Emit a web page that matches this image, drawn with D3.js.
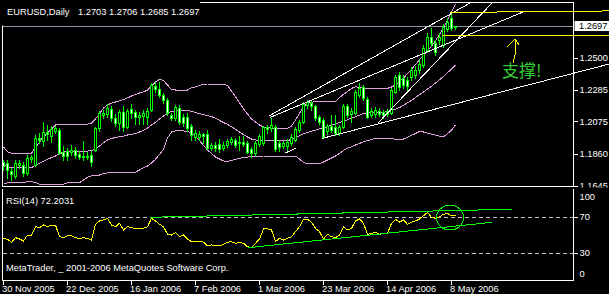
<!DOCTYPE html>
<html>
<head>
<meta charset="utf-8">
<script src="https://cdn.jsdelivr.net/npm/d3@7"></script>
<style>
    body { margin: 0; background: #000; overflow: hidden; }
    svg { display: block; }
    text { font-family: "Liberation Sans", Arial, sans-serif; font-size: 9.3px; fill: #fff; }
</style>
</head>
<body>
<svg id="chart" width="609" height="294"></svg>
<script>
// EURUSD daily candles, 30 Nov 2005 .. 9 May 2006 (one entry per bar)
const opens = [
    1.1797, 1.1790, 1.1737, 1.1704, 1.1777, 1.1777, 1.1724, 1.1817, 1.1777, 1.1957,
    1.1937, 1.1997, 1.1970, 1.2004, 1.2010, 1.1864, 1.1870, 1.1864, 1.1877, 1.1850,
    1.1830, 1.1837, 1.1844, 1.1877, 1.2024, 1.2110, 1.2117, 1.2150, 1.2090, 1.2057,
    1.2130, 1.2030, 1.2150, 1.2130, 1.2097, 1.2104, 1.2097, 1.2144, 1.2304, 1.2284,
    1.2244, 1.2210, 1.2110, 1.2090, 1.2157, 1.2097, 1.2097, 1.2037, 1.1964, 1.1964,
    1.1984, 1.1984, 1.1890, 1.1910, 1.1917, 1.1890, 1.1910, 1.1930, 1.1944, 1.1924,
    1.1930, 1.1924, 1.1884, 1.1857, 1.1917, 1.1924, 1.2030, 1.2024, 1.2030, 1.1924,
    1.1904, 1.1904, 1.1924, 1.1944, 1.2010, 1.2064, 1.2177, 1.2190, 1.2170, 1.2097,
    1.2077, 1.2004, 1.2037, 1.2030, 1.1990, 1.2030, 1.2170, 1.2117, 1.2124, 1.2244,
    1.2297, 1.2217, 1.2110, 1.2117, 1.2137, 1.2130, 1.2117, 1.2124, 1.2264, 1.2377,
    1.2357, 1.2344, 1.2364, 1.2377, 1.2410, 1.2444, 1.2544, 1.2630, 1.2590, 1.2610,
    1.2577, 1.2684, 1.2757, 1.2703
];
const highs = [
    1.1810, 1.1810, 1.1757, 1.1810, 1.1810, 1.1797, 1.1844, 1.1844, 1.1977, 1.1990,
    1.2064, 1.2044, 1.2037, 1.2037, 1.2024, 1.1904, 1.1890, 1.1910, 1.1897, 1.1870,
    1.1937, 1.1864, 1.1870, 1.2030, 1.2137, 1.2144, 1.2184, 1.2170, 1.2117, 1.2144,
    1.2170, 1.2150, 1.2184, 1.2144, 1.2130, 1.2144, 1.2157, 1.2324, 1.2330, 1.2330,
    1.2257, 1.2224, 1.2124, 1.2177, 1.2177, 1.2117, 1.2124, 1.2050, 1.2010, 1.2004,
    1.1990, 1.2010, 1.1924, 1.1930, 1.1950, 1.1930, 1.1950, 1.1964, 1.1957, 1.1970,
    1.1970, 1.1937, 1.1897, 1.1937, 1.1984, 1.2037, 1.2044, 1.2090, 1.2044, 1.1944,
    1.1937, 1.1950, 1.1984, 1.2030, 1.2077, 1.2197, 1.2210, 1.2204, 1.2177, 1.2110,
    1.2090, 1.2050, 1.2110, 1.2110, 1.2044, 1.2184, 1.2184, 1.2157, 1.2277, 1.2324,
    1.2310, 1.2230, 1.2157, 1.2164, 1.2157, 1.2144, 1.2150, 1.2290, 1.2377, 1.2397,
    1.2377, 1.2364, 1.2430, 1.2437, 1.2477, 1.2577, 1.2657, 1.2690, 1.2610, 1.2657,
    1.2717, 1.2757, 1.2797, 1.2706
];
const lows = [
    1.1744, 1.1690, 1.1677, 1.1690, 1.1757, 1.1704, 1.1710, 1.1797, 1.1770, 1.1924,
    1.1904, 1.1944, 1.1930, 1.1990, 1.1850, 1.1810, 1.1810, 1.1844, 1.1824, 1.1817,
    1.1810, 1.1817, 1.1770, 1.1870, 1.2004, 1.2090, 1.2097, 1.2070, 1.2037, 1.2010,
    1.2004, 1.2024, 1.2090, 1.2050, 1.2050, 1.2050, 1.2050, 1.2137, 1.2264, 1.2230,
    1.2190, 1.2110, 1.2077, 1.2077, 1.2050, 1.2037, 1.2004, 1.1944, 1.1944, 1.1944,
    1.1924, 1.1884, 1.1877, 1.1870, 1.1864, 1.1877, 1.1897, 1.1917, 1.1897, 1.1877,
    1.1904, 1.1857, 1.1830, 1.1844, 1.1904, 1.1910, 1.1990, 1.2004, 1.1870, 1.1870,
    1.1890, 1.1877, 1.1910, 1.1937, 1.1997, 1.2057, 1.2157, 1.2144, 1.2077, 1.2050,
    1.1957, 1.1984, 1.1997, 1.1977, 1.1977, 1.2024, 1.2097, 1.2064, 1.2117, 1.2230,
    1.2210, 1.2090, 1.2097, 1.2097, 1.2104, 1.2090, 1.2104, 1.2117, 1.2257, 1.2277,
    1.2290, 1.2277, 1.2344, 1.2357, 1.2390, 1.2430, 1.2530, 1.2570, 1.2510, 1.2584,
    1.2564, 1.2670, 1.2677, 1.2685
];
const closes = [
    1.1770, 1.1744, 1.1717, 1.1790, 1.1790, 1.1724, 1.1824, 1.1830, 1.1957, 1.1944,
    1.1997, 1.1984, 1.2017, 1.2024, 1.1857, 1.1837, 1.1837, 1.1877, 1.1844, 1.1830,
    1.1837, 1.1830, 1.1797, 1.2024, 1.2124, 1.2124, 1.2157, 1.2090, 1.2057, 1.2130,
    1.2030, 1.2137, 1.2124, 1.2097, 1.2110, 1.2124, 1.2137, 1.2310, 1.2284, 1.2244,
    1.2210, 1.2124, 1.2090, 1.2164, 1.2064, 1.2057, 1.2024, 1.1977, 1.1990, 1.1984,
    1.1970, 1.1890, 1.1910, 1.1890, 1.1884, 1.1910, 1.1937, 1.1950, 1.1910, 1.1930,
    1.1917, 1.1864, 1.1857, 1.1924, 1.1970, 1.2030, 1.2017, 1.2044, 1.1884, 1.1897,
    1.1924, 1.1930, 1.1964, 1.2017, 1.2064, 1.2184, 1.2197, 1.2170, 1.2090, 1.2064,
    1.1964, 1.2037, 1.2010, 1.1990, 1.2030, 1.2170, 1.2110, 1.2137, 1.2264, 1.2290,
    1.2224, 1.2097, 1.2137, 1.2144, 1.2117, 1.2110, 1.2137, 1.2277, 1.2364, 1.2297,
    1.2310, 1.2304, 1.2410, 1.2410, 1.2450, 1.2557, 1.2630, 1.2590, 1.2530, 1.2630,
    1.2697, 1.2730, 1.2690, 1.2697
];

// Bollinger bands as drawn on the chart
const bandUpper = [
    1.1897, 1.1866, 1.1855, 1.1855, 1.1855, 1.1855, 1.1855, 1.1855, 1.1894, 1.1930,
    1.1966, 1.1990, 1.2017, 1.2044, 1.2044, 1.2044, 1.2050, 1.2050, 1.2050, 1.2050,
    1.2050, 1.2050, 1.2057, 1.2084, 1.2118, 1.2157, 1.2177, 1.2190, 1.2197, 1.2204,
    1.2214, 1.2224, 1.2237, 1.2247, 1.2257, 1.2264, 1.2277, 1.2304, 1.2332, 1.2348,
    1.2340, 1.2310, 1.2280, 1.2277, 1.2277, 1.2277, 1.2277, 1.2292, 1.2297, 1.2307,
    1.2315, 1.2317, 1.2317, 1.2317, 1.2317, 1.2317, 1.2307, 1.2270, 1.2232, 1.2192,
    1.2152, 1.2117, 1.2084, 1.2064, 1.2044, 1.2030, 1.2027, 1.2022, 1.2022, 1.2022,
    1.2022, 1.2022, 1.2037, 1.2077, 1.2122, 1.2166, 1.2190, 1.2195, 1.2199, 1.2199,
    1.2199, 1.2199, 1.2199, 1.2199, 1.2227, 1.2248, 1.2267, 1.2287, 1.2299, 1.2294,
    1.2288, 1.2288, 1.2288, 1.2288, 1.2288, 1.2288, 1.2288, 1.2297, 1.2310, 1.2334,
    1.2357, 1.2386, 1.2416, 1.2446, 1.2478, 1.2510, 1.2540, 1.2569, 1.2605, 1.2648,
    1.2690, 1.2744, 1.2797, 1.2850
];
const bandMiddle = [
    1.1782, 1.1766, 1.1759, 1.1759, 1.1759, 1.1759, 1.1759, 1.1759, 1.1776, 1.1789,
    1.1802, 1.1816, 1.1826, 1.1837, 1.1852, 1.1862, 1.1870, 1.1870, 1.1870, 1.1870,
    1.1870, 1.1870, 1.1873, 1.1882, 1.1904, 1.1925, 1.1944, 1.1954, 1.1960, 1.1965,
    1.1970, 1.1977, 1.1982, 1.1987, 1.1997, 1.2008, 1.2023, 1.2044, 1.2062, 1.2084,
    1.2104, 1.2122, 1.2134, 1.2139, 1.2139, 1.2139, 1.2139, 1.2135, 1.2127, 1.2120,
    1.2113, 1.2106, 1.2100, 1.2088, 1.2074, 1.2060, 1.2048, 1.2032, 1.2014, 1.1997,
    1.1979, 1.1964, 1.1950, 1.1944, 1.1940, 1.1939, 1.1939, 1.1939, 1.1939, 1.1939,
    1.1939, 1.1939, 1.1948, 1.1962, 1.1972, 1.1984, 1.1993, 1.2002, 1.2010, 1.2018,
    1.2026, 1.2034, 1.2042, 1.2051, 1.2060, 1.2069, 1.2079, 1.2089, 1.2099, 1.2110,
    1.2120, 1.2126, 1.2126, 1.2126, 1.2126, 1.2128, 1.2135, 1.2142, 1.2150, 1.2160,
    1.2176, 1.2192, 1.2208, 1.2227, 1.2246, 1.2264, 1.2283, 1.2302, 1.2324, 1.2345,
    1.2368, 1.2392, 1.2416, 1.2444
];
const bandLower = [
    1.1655, 1.1657, 1.1659, 1.1659, 1.1659, 1.1659, 1.1666, 1.1666, 1.1660, 1.1650,
    1.1648, 1.1648, 1.1648, 1.1648, 1.1648, 1.1648, 1.1659, 1.1659, 1.1659, 1.1659,
    1.1677, 1.1695, 1.1704, 1.1708, 1.1710, 1.1722, 1.1724, 1.1726, 1.1726, 1.1726,
    1.1726, 1.1726, 1.1726, 1.1729, 1.1744, 1.1758, 1.1770, 1.1790, 1.1815, 1.1847,
    1.1882, 1.1957, 1.1997, 1.2004, 1.2004, 1.2004, 1.2000, 1.1990, 1.1970, 1.1940,
    1.1908, 1.1877, 1.1854, 1.1830, 1.1817, 1.1804, 1.1800, 1.1808, 1.1815, 1.1822,
    1.1827, 1.1830, 1.1833, 1.1834, 1.1836, 1.1837, 1.1837, 1.1837, 1.1837, 1.1837,
    1.1837, 1.1837, 1.1837, 1.1837, 1.1817, 1.1794, 1.1784, 1.1784, 1.1784, 1.1786,
    1.1797, 1.1810, 1.1824, 1.1837, 1.1854, 1.1874, 1.1890, 1.1898, 1.1910, 1.1921,
    1.1932, 1.1940, 1.1947, 1.1954, 1.1954, 1.1954, 1.1954, 1.1954, 1.1947, 1.1944,
    1.1950, 1.1962, 1.1974, 1.1987, 1.2000, 1.1997, 1.1990, 1.1982, 1.1976, 1.1970,
    1.1964, 1.1986, 1.2010, 1.2044
];

// RSI(14)
const rsiValues = [
    46.3, 45.2, 41.9, 47.0, 45.6, 43.3, 50.0, 50.0, 59.2, 58.1,
    61.1, 59.2, 61.1, 61.1, 48.1, 47.0, 49.2, 49.2, 47.0, 46.3,
    47.0, 46.3, 44.4, 61.9, 65.6, 66.7, 68.6, 61.1, 59.2, 63.0,
    55.6, 59.2, 58.1, 57.4, 57.4, 57.4, 59.2, 68.6, 65.6, 61.9,
    59.2, 50.8, 50.0, 52.6, 48.1, 50.0, 45.6, 42.6, 42.6, 43.3,
    41.9, 38.1, 38.9, 38.1, 37.8, 39.7, 41.9, 42.6, 40.8, 41.9,
    40.8, 37.0, 35.9, 40.8, 45.6, 56.7, 56.7, 55.6, 42.6, 46.3,
    44.4, 46.3, 48.1, 53.7, 59.2, 67.4, 67.4, 64.1, 57.4, 53.7,
    45.6, 50.8, 48.1, 47.0, 50.0, 59.2, 55.6, 57.4, 65.6, 67.8,
    63.0, 50.8, 51.9, 53.0, 50.8, 51.9, 51.9, 63.0, 67.4, 64.4,
    66.7, 61.9, 64.1, 65.6, 67.8, 71.4, 75.2, 69.7, 68.6, 70.3,
    73.0, 74.1, 71.4, 72.2031
];

// axis labels
const dateTickBars = [0, 16, 32, 48, 64, 80, 96, 112];
const dateLabels = ["30 Nov 2005", "22 Dec 2005", "16 Jan 2006", "7 Feb 2006",
    "1 Mar 2006", "23 Mar 2006", "14 Apr 2006", "8 May 2006"];
const priceTicks = [1.2500, 1.2285, 1.2075, 1.1860, 1.1645];
const rsiTicks = [100, 70, 30, 0];
const rsiLevels = [70, 30];
const lastPrice = 1.2697;

// hand drawn objects, [bar, price] pairs
const whiteTrendLines = [
    [[66.5, 1.2104], [116.75, 1.2857]],
    [[66.75, 1.2094], [130, 1.2797]],
    [[93.75, 1.2057], [122.25, 1.2857]],
    [[79.75, 1.1954], [151.5, 1.2450]],
    [[70.6, 1.1857], [73.25, 1.1890]]
];
const yellowLines = [
    [[111.75, 1.2794], [151.5, 1.2804]],
    [[109.75, 1.2640], [151.5, 1.2640]]
];
const arrowPoints = [[127.5, 1.2457], [128, 1.2510], [128, 1.2604]];
const arrowHead = [[126, 1.2564], [128, 1.2617], [129, 1.2577]];
const noteText = "支撑!";
const notePos = [124.75, 1.2404];
// RSI objects, [bar, rsi]
const rsiTrendLines = [
    [[36.75, 69.7], [127.25, 78.6]],
    [[61.25, 35.9], [122.25, 64.1]]
];
const rsiCircle = [111.75, 69.4];

const W = 609, H = 294;
const plotLeft = 3, plotRight = 573;
const mainTop = 3, mainBottom = 186;
const rsiTop = 189, rsiBottom = 281;

const x = d3.scaleLinear().domain([0, 113]).range([3, 455]);
const y = d3.scaleLinear().domain([1.1645, 1.2697]).range([184.8, 27]);
const yR = d3.scaleLinear().domain([0, 100]).range([280, 190]);

const svg = d3.select("#chart");
svg.append("rect").attr("width", W).attr("height", H).attr("fill", "#000");

const defs = svg.append("defs");
defs.append("clipPath").attr("id", "clip-main").append("rect")
    .attr("x", plotLeft).attr("y", mainTop).attr("width", W - plotLeft).attr("height", mainBottom - mainTop);
defs.append("clipPath").attr("id", "clip-rsi").append("rect")
    .attr("x", plotLeft).attr("y", rsiTop).attr("width", plotRight - plotLeft).attr("height", rsiBottom - rsiTop);

// ---- main window ----
const main = svg.append("g").attr("clip-path", "url(#clip-main)").attr("shape-rendering", "crispEdges");

// current price line
main.append("line")
    .attr("x1", plotLeft).attr("x2", plotRight)
    .attr("y1", Math.round(y(lastPrice)) - 0.5).attr("y2", Math.round(y(lastPrice)) - 0.5)
    .attr("stroke", "#8a97a8");

// bollinger bands
const bandLine = arr => d3.line().x((d, i) => x(i) + 0.5).y(d => y(d))(arr);
[bandUpper, bandMiddle, bandLower].forEach(arr => {
    main.append("path").attr("d", bandLine(arr))
        .attr("fill", "none").attr("stroke", "#dda0dd").attr("stroke-width", 1);
});

// candles
const bars = d3.range(opens.length).map(i => ({
    i, o: opens[i], h: highs[i], l: lows[i], c: closes[i]
}));
const candle = main.append("g").selectAll("g").data(bars).enter().append("g");
candle.append("line")
    .attr("x1", d => Math.round(x(d.i)) + 0.5).attr("x2", d => Math.round(x(d.i)) + 0.5)
    .attr("y1", d => Math.round(y(d.h))).attr("y2", d => Math.round(y(d.l)) + 1)
    .attr("stroke", "#00ff00");
candle.append("rect")
    .attr("x", d => Math.round(x(d.i)) - 1)
    .attr("y", d => Math.round(y(Math.max(d.o, d.c))))
    .attr("width", 3)
    .attr("height", d => Math.max(1, Math.round(y(Math.min(d.o, d.c))) - Math.round(y(Math.max(d.o, d.c))) + 1))
    .attr("fill", "#00ff00");
candle.filter(d => Math.round(y(Math.min(d.o, d.c))) - Math.round(y(Math.max(d.o, d.c))) >= 2)
    .append("rect")
    .attr("x", d => Math.round(x(d.i)))
    .attr("y", d => Math.round(y(Math.max(d.o, d.c))) + 1)
    .attr("width", 1)
    .attr("height", d => Math.round(y(Math.min(d.o, d.c))) - Math.round(y(Math.max(d.o, d.c))) - 1)
    .attr("fill", d => d.c < d.o ? "#ffffff" : "#000000");

// trend lines and notes
const segment = d3.line().x(d => x(d[0])).y(d => y(d[1]));
whiteTrendLines.forEach(l => {
    main.append("path").attr("d", segment(l)).attr("stroke", "#fff").attr("fill", "none");
});
yellowLines.forEach(l => {
    main.append("path").attr("d", segment(l)).attr("stroke", "#ffff00").attr("fill", "none");
});
main.append("path").attr("d", segment(arrowPoints)).attr("stroke", "#ffff00").attr("fill", "none");
main.append("path").attr("d", segment(arrowHead)).attr("stroke", "#ffff00").attr("fill", "none");
svg.append("text")
    .attr("x", x(notePos[0])).attr("y", y(notePos[1]))
    .attr("dy", "0.36em")
    .style("font-family", "'Noto Sans CJK SC', sans-serif")
    .style("font-size", "17px")
    .style("fill", "#33cc33")
    .text(noteText);

// frames
svg.append("rect").attr("x", 2.5).attr("y", 2.5).attr("width", plotRight - 2).attr("height", mainBottom - 2)
    .attr("fill", "none").attr("stroke", "#fff");
svg.append("rect").attr("x", 2.5).attr("y", rsiTop - 0.5).attr("width", plotRight - 2).attr("height", rsiBottom - rsiTop)
    .attr("fill", "none").attr("stroke", "#fff");

// title
svg.append("rect").attr("x", 0).attr("y", 0).attr("width", 200).attr("height", 25.5).attr("fill", "#000");
svg.append("text").attr("x", 7).attr("y", 14.5).text("EURUSD,Daily");
svg.append("text").attr("x", 78).attr("y", 14.5)
    .text([opens[113], highs[113], lows[113], closes[113]].map(d3.format(".4f")).join(" "));

// price axis
const priceAxis = svg.append("g")
    .attr("transform", `translate(${plotRight + 0.5},1)`)
    .call(d3.axisRight(y).tickValues(priceTicks).tickFormat(d3.format(".4f")).tickSize(4).tickPadding(2));
priceAxis.select(".domain").remove();
priceAxis.selectAll("line").attr("stroke", "#fff").attr("shape-rendering", "crispEdges");
priceAxis.selectAll("text").style("fill", "#fff");
priceAxis.attr("font-family", null).attr("font-size", null);
svg.append("rect").attr("x", 0).attr("y", mainBottom + 1.5).attr("width", W).attr("height", 1.5).attr("fill", "#000");

// last price label
svg.append("rect").attr("x", 574.5).attr("y", y(lastPrice) - 6).attr("width", 35).attr("height", 10).attr("fill", "#fff");
svg.append("text").attr("x", 579).attr("y", y(lastPrice) - 1).attr("dy", "0.32em")
    .style("fill", "#000").text(d3.format(".4f")(lastPrice));

// ---- RSI window ----
const rsiG = svg.append("g").attr("clip-path", "url(#clip-rsi)").attr("shape-rendering", "crispEdges");
rsiLevels.forEach(v => {
    rsiG.append("line")
        .attr("x1", plotLeft).attr("x2", plotRight)
        .attr("y1", Math.round(yR(v)) + 0.5).attr("y2", Math.round(yR(v)) + 0.5)
        .attr("stroke", "#c0c0c0").attr("stroke-dasharray", "4,3");
});
rsiG.append("path")
    .attr("d", d3.line().x((d, i) => x(i) + 0.5).y(d => yR(d))(rsiValues))
    .attr("fill", "none").attr("stroke", "#ffff00");
const rsiSegment = d3.line().x(d => x(d[0])).y(d => yR(d[1]));
rsiTrendLines.forEach(l => {
    rsiG.append("path").attr("d", rsiSegment(l)).attr("stroke", "#00ff00").attr("fill", "none");
});
rsiG.append("ellipse")
    .attr("cx", x(rsiCircle[0])).attr("cy", yR(rsiCircle[1]))
    .attr("rx", 13.5).attr("ry", 12.5)
    .attr("fill", "none").attr("stroke", "#00ff00");

svg.append("text").attr("x", 6).attr("y", 203.5)
    .text("RSI(14) " + d3.format(".4f")(rsiValues[rsiValues.length - 1]));
svg.append("text").attr("x", 6).attr("y", 271)
    .text("MetaTrader, _ 2001-2006 MetaQuotes Software Corp.");

// RSI axis
const rsiAxis = svg.append("g")
    .attr("transform", `translate(${plotRight + 0.5},0)`)
    .call(d3.axisRight(yR).tickValues(rsiTicks).tickSize(4).tickPadding(2));
rsiAxis.select(".domain").remove();
rsiAxis.attr("font-family", null).attr("font-size", null);
rsiAxis.selectAll("line").attr("stroke", "#fff").attr("shape-rendering", "crispEdges");
rsiAxis.selectAll("text").style("fill", "#fff");
rsiAxis.selectAll(".tick")
    .filter(d => d === 100 || d === 0)
    .attr("transform", d => `translate(0,${d === 100 ? 197 : 274})`)
    .select("line").remove();

// date axis
const dateAxis = svg.append("g")
    .attr("transform", `translate(0,${rsiBottom})`)
    .call(d3.axisBottom(x).tickValues(dateTickBars).tickFormat((d, i) => dateLabels[i]).tickSize(4).tickPadding(1));
dateAxis.select(".domain").remove();
dateAxis.attr("font-family", null).attr("font-size", null);
dateAxis.selectAll("line").attr("stroke", "#fff").attr("shape-rendering", "crispEdges");
dateAxis.selectAll("text").attr("text-anchor", "start").attr("x", -1.5).attr("dy", "0.66em").style("fill", "#fff");
</script>
</body>
</html>
